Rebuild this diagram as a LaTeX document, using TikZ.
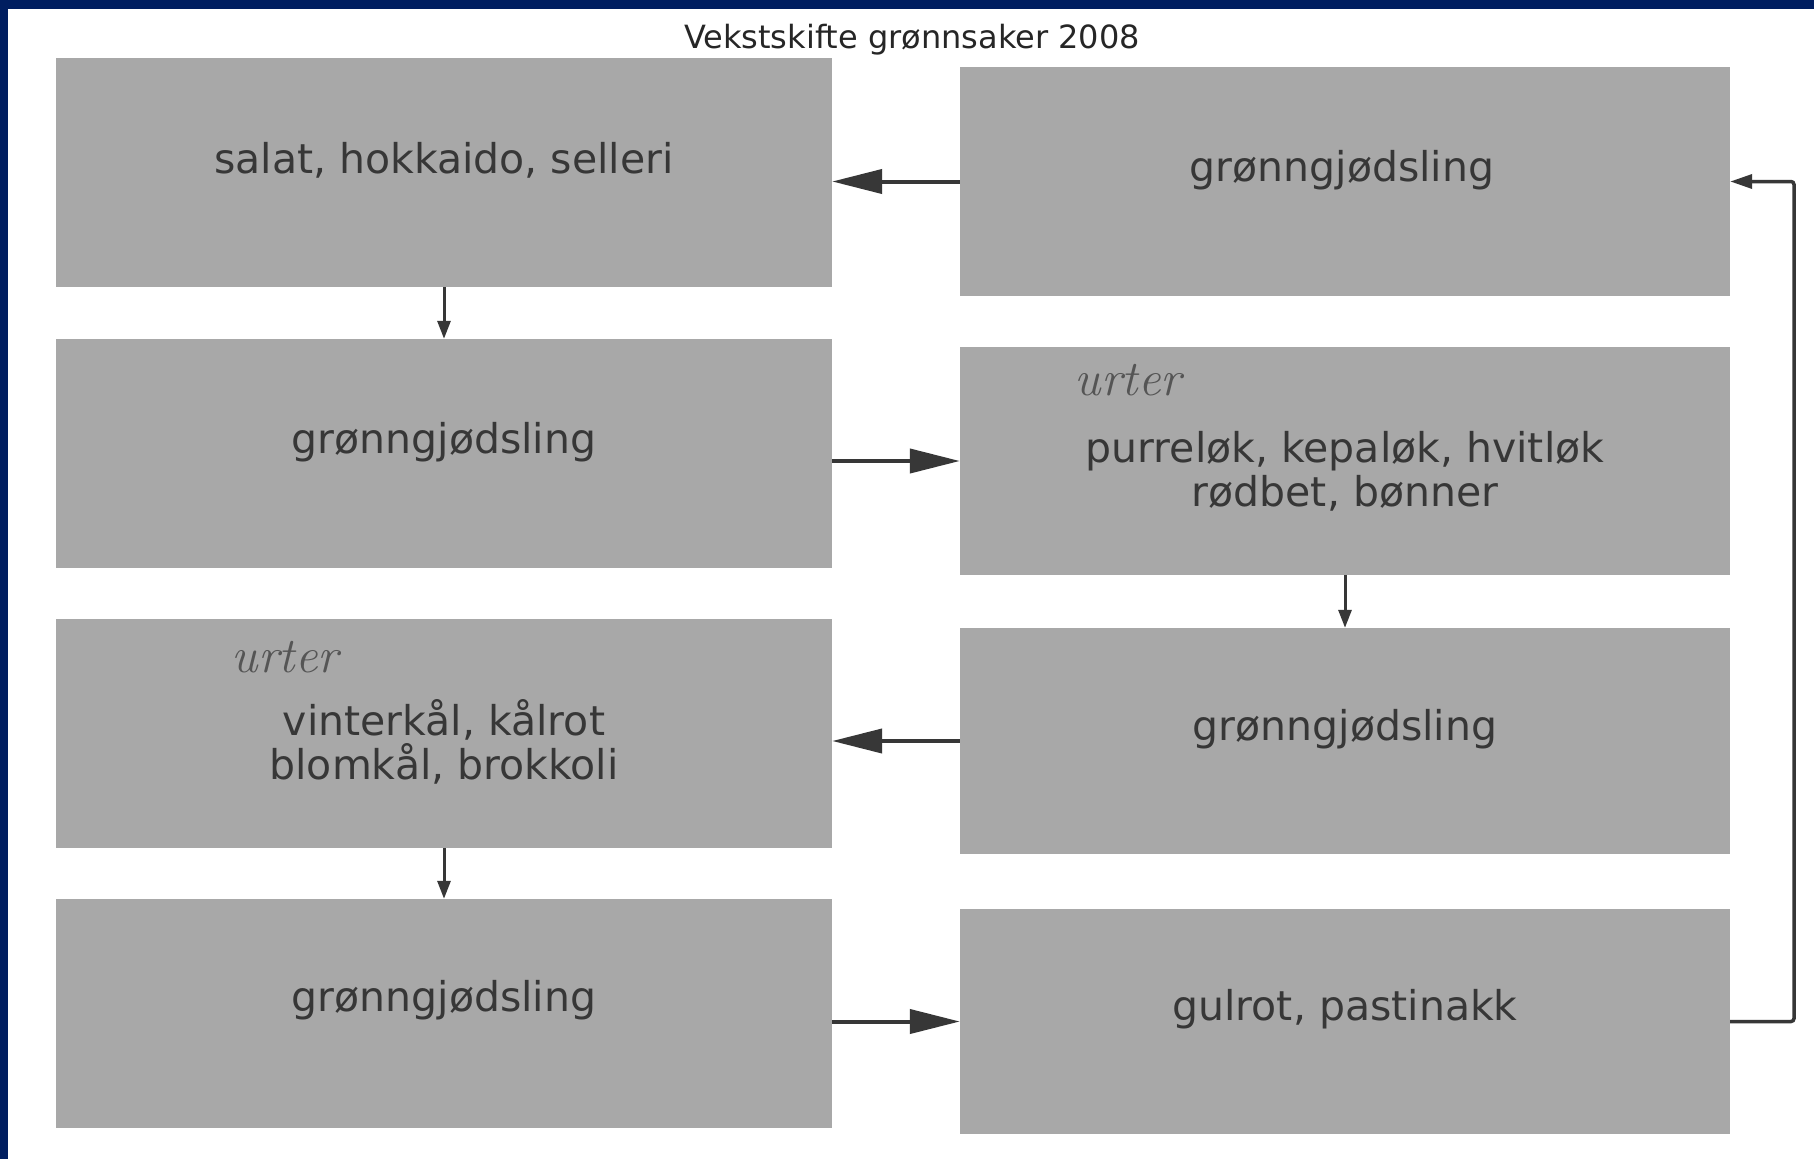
\documentclass[tikz,border=0pt]{standalone}
\usepackage{fontspec}
\newfontfamily\boxfont{DejaVu Sans}
\usetikzlibrary{arrows.meta,calc}
\definecolor{navyframe}{HTML}{001E60}
\definecolor{boxgray}{RGB}{168,168,168}
\definecolor{inkgray}{RGB}{55,55,55}
\definecolor{pencil}{RGB}{85,85,85}
\tikzset{
  cropbox/.style={fill=boxgray, draw=none, inner sep=0pt, minimum width=#1},
  cropbox/.default=776pt,
  boxtext/.style={font=\boxfont\fontsize{41}{44}\selectfont, text=inkgray, align=center, inner sep=0pt},
  handnote/.style={font=\itshape\fontsize{50}{50}\selectfont, text=pencil, inner sep=0pt},
  bigarrow/.style={draw=inkgray, line width=4pt, -{Triangle[length=50pt,width=24pt]}},
  smallarrow/.style={draw=inkgray, line width=3pt, -{Triangle[length=18pt,width=13pt]}},
  looparrow/.style={draw=inkgray, line width=3.5pt, rounded corners=3pt, -{Triangle[length=22pt,width=14pt]}}
}
\begin{document}
\begin{tikzpicture}[x=1pt,y=-1pt]
\useasboundingbox (0,0) rectangle (1814,1159);
\fill[white] (0,0) rectangle (1814,1159);
\fill[navyframe] (0,0) rectangle (1814,9);
\fill[navyframe] (0,0) rectangle (8,1159);

% title
\node[font=\boxfont\fontsize{32}{34}\selectfont, text=black!85, inner sep=0pt] (title) at (912,40) {Vekstskifte grønnsaker 2008};

% left column boxes
\node[cropbox, minimum height=229pt] (B1) at (444,172.5) {};
\node[cropbox, minimum height=229pt] (B2) at (444,453.5) {};
\node[cropbox, minimum height=229pt] (B3) at (444,733.5) {};
\node[cropbox, minimum height=229pt] (B4) at (444,1013.5) {};
% right column boxes
\node[cropbox=770pt, minimum height=229pt] (R1) at (1345,181.5) {};
\node[cropbox=770pt, minimum height=228pt] (R2) at (1345,461) {};
\node[cropbox=770pt, minimum height=226pt] (R3) at (1345,741) {};
\node[cropbox=770pt, minimum height=225pt] (R4) at (1345,1021.5) {};

% texts
\node[boxtext] (t1) at (444,160) {salat, hokkaido, selleri};
\node[boxtext] (t2) at (444,442) {grønngjødsling};
\node[boxtext] (t3) at (444,742) {vinterkål, kålrot\\blomkål, brokkoli};
\node[boxtext] (t4) at (444,1000) {grønngjødsling};
\node[boxtext] (t5) at (1342,170) {grønngjødsling};
\node[boxtext] (t6) at (1345,471) {purreløk, kepaløk, hvitløk\\rødbet, bønner};
\node[boxtext] (t7) at (1345,729) {grønngjødsling};
\node[boxtext] (t8) at (1345,1009) {gulrot, pastinakk};

% handwritten notes
\node[handnote] (h1) at (1128,380) {urter};
\node[handnote] (h2) at (285,657) {urter};

% connectors
\draw[bigarrow] (R1.west) -- (R1.west -| B1.east);
\draw[smallarrow] (B1.south) -- (B2.north);
\draw[bigarrow] (B2.east |- R2.west) -- (R2.west);
\draw[smallarrow] (R2.south) -- (R2.south |- R3.north);
\draw[bigarrow] (R3.west) -- (R3.west -| B3.east);
\draw[smallarrow] (B3.south) -- (B4.north);
\draw[bigarrow] (B4.east |- R4.west) -- (R4.west);
\coordinate (loopx) at (1794,0);
\draw[looparrow] (R4.east) -- (R4.east -| loopx) -- (R1.east -| loopx) -- (R1.east);
\end{tikzpicture}
\end{document}
